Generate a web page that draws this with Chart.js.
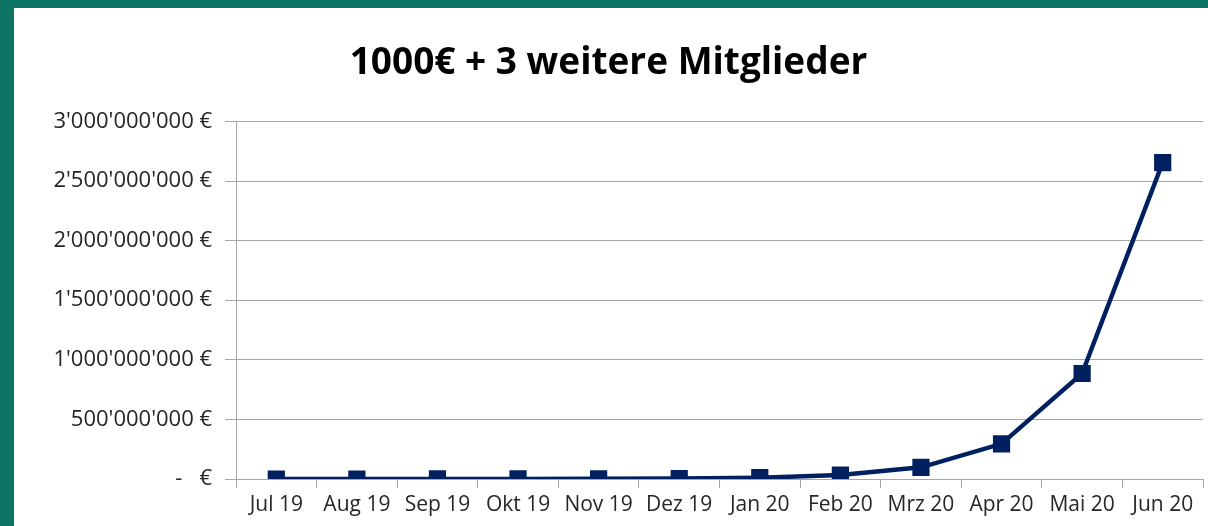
<!DOCTYPE html>
<html>
<head>
<meta charset="utf-8">
<script src="https://cdn.jsdelivr.net/npm/chart.js@4"></script>
<style>
  html, body { margin: 0; padding: 0; background: #0d7464; width: 1208px; height: 526px; overflow: hidden; }
  #box { position: absolute; left: 14px; top: 8px; width: 1194px; height: 518px; background: #ffffff; }
</style>
</head>
<body>
<div id="box"><canvas id="grafica" width="1194" height="518"></canvas></div>
<script>
// Daten
const monate = ['Jul 19', 'Aug 19', 'Sep 19', 'Okt 19', 'Nov 19', 'Dez 19', 'Jan 20', 'Feb 20', 'Mrz 20', 'Apr 20', 'Mai 20', 'Jun 20'];
const betrag = [15000, 45000, 135000, 400000, 1200000, 3600000, 11000000, 33000000, 98000000, 295000000, 885000000, 2655000000];
const titel = '1000€ + 3 weitere Mitglieder';

const schrift = "'Open Sans', Lato, sans-serif";

function formatEuro(v) {
    if (v === 0) return '-   €';
    return String(v).replace(/\B(?=(\d{3})+(?!\d))/g, "'") + ' €';
}

const ctx = document.getElementById('grafica').getContext('2d');
new Chart(ctx, {
    type: 'line',
    data: {
        labels: monate,
        datasets: [{
            data: betrag,
            borderColor: '#002060',
            backgroundColor: '#002060',
            borderWidth: 4.5,
            pointStyle: 'rect',
            pointRadius: 9,
            pointHoverRadius: 9,
            tension: 0
        }]
    },
    options: {
        responsive: false,
        animation: false,
        layout: { autoPadding: false, padding: { left: 0, right: 5, top: 0, bottom: 0 } },
        plugins: {
            legend: { display: false },
            tooltip: { enabled: false },
            title: {
                display: true,
                text: titel,
                color: '#000000',
                font: { family: schrift, size: 37, weight: 'bold' },
                padding: { top: 33, bottom: 36 }
            }
        },
        scales: {
            x: {
                offset: true,
                grid: { offset: true, drawOnChartArea: false, drawTicks: true, tickLength: 9, color: '#a6a6a6', lineWidth: 1 },
                border: { display: true, color: '#a6a6a6' },
                ticks: { color: '#262626', font: { family: schrift, size: 21 }, padding: 4, maxRotation: 0, autoSkip: false },
                afterFit: (s) => { s.height = 47; }
            },
            y: {
                min: 0,
                max: 3000000000,
                grid: { color: '#a6a6a6', lineWidth: 1, tickLength: 11 },
                border: { display: true, color: '#a6a6a6' },
                ticks: { stepSize: 500000000, color: '#262626', font: { family: schrift, size: 22 }, padding: 13, callback: (v) => formatEuro(v) },
                afterFit: (s) => { s.width = 222; }
            }
        }
    }
});
</script>
</body>
</html>
